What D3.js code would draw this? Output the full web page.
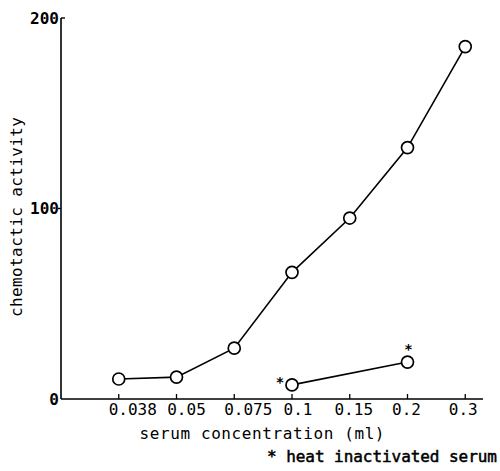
<!DOCTYPE html>
<html><head><meta charset="utf-8">
<script src="https://cdn.jsdelivr.net/npm/d3@7"></script>
<style>
html,body{margin:0;padding:0;background:#fff;}
text{font-family:"DejaVu Sans Mono",monospace;fill:#000;}
</style></head>
<body>
<svg id="c" width="500" height="471"></svg>
<script>
// ---- data ----
const categories = ["0.038","0.05","0.075","0.1","0.15","0.2","0.3"];
const serumValues = [10.5, 11.5, 26.7, 66.5, 95, 132, 185];
const heatCategories = ["0.1","0.2"];
const heatValues = [7.4, 19.4];
const yTickValues = [0, 100, 200];
const xTitle = "serum concentration (ml)";
const yTitle = "chemotactic activity";
const footnote = "* heat inactivated serum";

// ---- layout ----
const svg = d3.select("#c");
const x = d3.scalePoint().domain(categories).range([61, 523]).padding(1);
const y = d3.scaleLinear().domain([0, 200]).range([399, 18]);
const axisLeft = 61, axisRight = 483;
const labelNudge = [14, 10, 14, 6, 4, -1, -2];

const g = svg.append("g");
// y axis line
g.append("line").attr("x1", axisLeft).attr("x2", axisLeft)
  .attr("y1", y(200)).attr("y2", y(0)).attr("stroke", "#000").attr("stroke-width", 1.6);
// x axis line
g.append("line").attr("x1", axisLeft).attr("x2", axisRight)
  .attr("y1", y(0)).attr("y2", y(0)).attr("stroke", "#000").attr("stroke-width", 1.6);

// y ticks
yTickValues.forEach(v => {
  if (v === 200) g.append("line").attr("x1", axisLeft).attr("x2", axisLeft + 4)
      .attr("y1", y(v)).attr("y2", y(v)).attr("stroke", "#000").attr("stroke-width", 1.4);
  if (v === 100) g.append("line").attr("x1", axisLeft - 3).attr("x2", axisLeft)
      .attr("y1", y(v)).attr("y2", y(v)).attr("stroke", "#000").attr("stroke-width", 1.4);
  g.append("text").attr("x", axisLeft - 2).attr("y", y(v)).attr("dy", "0.36em")
    .attr("text-anchor", "end").attr("font-size", 16).attr("font-weight", "bold")
    .text(String(v));
});

// x ticks
categories.forEach((c, i) => {
  g.append("line").attr("x1", x(c)).attr("x2", x(c))
    .attr("y1", y(0)).attr("y2", y(0) - 5).attr("stroke", "#000").attr("stroke-width", 1.3);
  g.append("text").attr("x", x(c) + labelNudge[i]).attr("y", y(0) + 16)
    .attr("text-anchor", "middle").attr("font-size", 16).text(c);
});

// titles
g.append("text").attr("x", 262).attr("y", 439).attr("text-anchor", "middle")
  .attr("font-size", 16).attr("textLength", 245).text(xTitle);
g.append("text").attr("x", 497).attr("y", 462).attr("text-anchor", "end")
  .attr("font-size", 16).attr("stroke", "#000").attr("stroke-width", 0.5)
  .attr("textLength", 230).text(footnote);
g.append("text").attr("transform", "translate(22,217) rotate(-90)")
  .attr("text-anchor", "middle").attr("font-size", 16).attr("textLength", 200).text(yTitle);

// series lines
const line = d3.line().x(d => x(d[0])).y(d => y(d[1]));
const mainPts = categories.map((c, i) => [c, serumValues[i]]);
const heatPts = heatCategories.map((c, i) => [c, heatValues[i]]);
[mainPts, heatPts].forEach(pts => {
  g.append("path").datum(pts).attr("d", line).attr("fill", "none")
    .attr("stroke", "#000").attr("stroke-width", 1.6);
  g.selectAll(null).data(pts).enter().append("circle")
    .attr("cx", d => x(d[0])).attr("cy", d => y(d[1])).attr("r", 6)
    .attr("fill", "#fff").attr("stroke", "#000").attr("stroke-width", 1.7);
});

// asterisks on heat-inactivated points
const starOffsets = [[-12, -4], [1, -14]];
heatPts.forEach((d, i) => {
  g.append("text").attr("x", x(d[0]) + starOffsets[i][0]).attr("y", y(d[1]) + starOffsets[i][1] + 6)
    .attr("text-anchor", "middle").attr("font-size", 14).attr("font-weight", "bold").text("*");
});
</script>
</body></html>
